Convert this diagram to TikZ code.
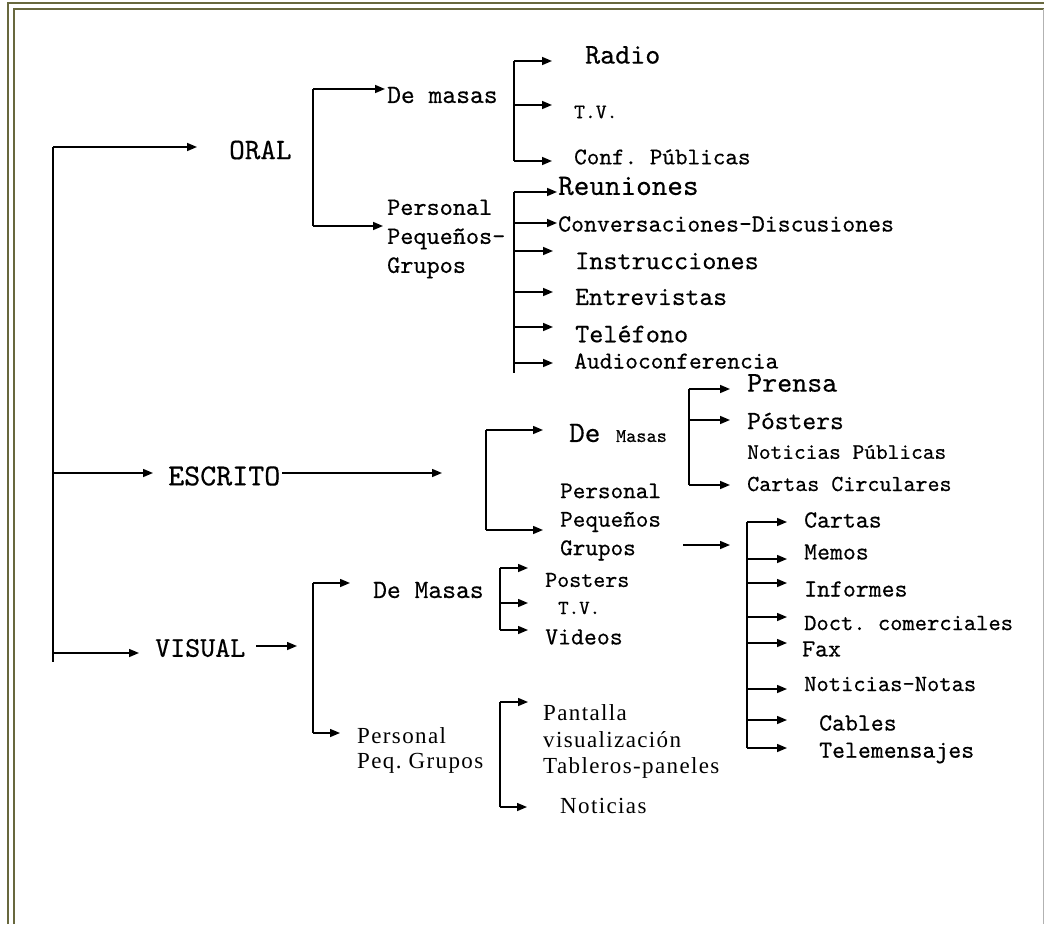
\documentclass[tikz,border=0pt]{standalone}
\usepackage{fontspec}
\newfontfamily\cour{lmmono10-regular.otf}[FakeBold=0.4]
\newfontfamily\tms[LetterSpace=6]{Liberation Serif}
\usetikzlibrary{arrows.meta}
\newcommand{\fsz}[2]{\fontsize{#1pt}{#2pt}\selectfont}
\definecolor{framecol}{RGB}{104,104,62}
\tikzset{
  >={Triangle[length=10pt,width=8pt]},
  lbl/.style={anchor=west, inner sep=0pt, align=left, font=\cour\fsz{#1}{28}},
  lbl/.default=24.6,
  tlbl/.style={anchor=west, inner sep=0pt, align=left, font=\tms\fsz{23}{#1}},
  tlbl/.default=27,
  bar/.style={line width=1.5pt},
  flow/.style={->, line width=1.5pt},
  frame/.style={draw=framecol, line width=2.4pt},
}

\begin{document}
\begin{tikzpicture}[x=1pt, y=-1pt]
  \useasboundingbox (0,0) rectangle (1044,924);
  % double frame
  \draw[frame] (8,924) -- (8,3) -- (1044,3);
  \draw[frame] (14,924) -- (14,9) -- (1044,9);
  \draw[black!30, line width=1pt] (1043,9) -- (1043,924);

  % main branches
  \node[lbl=29.7] (oral)    at (229,150) {ORAL};
  \node[lbl=30.5] (escrito) at (168,476) {ESCRITO};
  \node[lbl=28.6] (visual)  at (155,648) {VISUAL};
  \coordinate (j-oral)    at (53,147);
  \coordinate (j-escrito) at (53,473);
  \coordinate (j-visual)  at (53,653);
  \coordinate (trunk-end) at (53,662);
  \draw[bar] (j-oral) -- (trunk-end);
  \draw[flow, shorten >=32pt] (j-oral) -- (j-oral -| oral.west);
  \draw[flow, shorten >=15pt] (j-escrito) -- (j-escrito -| escrito.west);
  \draw[flow, shorten >=16pt] (j-visual) -- (j-visual -| visual.west);
  \coordinate (e-in) at (442,473);
  \coordinate (v-in) at (297,646);
  \draw[flow, shorten <=2pt] (e-in -| escrito.east) -- (e-in);
  \draw[flow, shorten <=11pt] (v-in -| visual.east) -- (v-in);

  % oral
  \node[lbl=26.3] (odm) at (387,95) {De masas};
  \node[lbl, font=\cour\fsz{25}{29}] (ope) at (387,239) {Personal\\Pequeños-\\Grupos};
  \coordinate (j-odm) at (313,89);
  \coordinate (j-ope) at (313,226);
  \draw[bar] (j-odm) -- (j-ope);
  \draw[flow, shorten >=2pt] (j-odm) -- (j-odm -| odm.west);
  \draw[flow, shorten >=4pt] (j-ope) -- (j-ope -| ope.west);

  \node[lbl=28.6] (radio) at (585,55)  {Radio};
  \node[lbl=20.6] (tv)    at (574,112) {T.V.};
  \node[lbl=24]   (conf)  at (574,157) {Conf.\ Públicas};
  \coordinate (j-radio) at (514,61);
  \coordinate (j-tv)    at (514,105);
  \coordinate (j-conf)  at (514,161);
  \draw[bar] (j-radio) -- (j-conf);
  \draw[flow, shorten >=33pt] (j-radio) -- (j-radio -| radio.west);
  \draw[flow, shorten >=22pt] (j-tv) -- (j-tv -| tv.west);
  \draw[flow, shorten >=22pt] (j-conf) -- (j-conf -| conf.west);

  \node[lbl=29.7] (reun)  at (558,186) {Reuniones};
  \node[lbl=24.6] (conv)  at (558,224) {Conversaciones-Discusiones};
  \node[lbl=26.9] (instr) at (575,261) {Instrucciones};
  \node[lbl=26.3] (entre) at (575,297) {Entrevistas};
  \node[lbl=26.9] (tel)   at (575,334) {Teléfono};
  \node[lbl=24.3] (audio) at (574,361) {Audioconferencia};
  \coordinate (j-reun)  at (514,192);
  \coordinate (j-conv)  at (514,223);
  \coordinate (j-instr) at (514,251);
  \coordinate (j-entre) at (514,292);
  \coordinate (j-tel)   at (514,327);
  \coordinate (j-audio) at (514,363);
  \coordinate (p-end)   at (514,373);
  \draw[bar] (j-reun) -- (p-end);
  \draw[flow, shorten >=1pt] (j-reun) -- (j-reun -| reun.west);
  \draw[flow, shorten >=1pt] (j-conv) -- (j-conv -| conv.west);
  \draw[flow, shorten >=22pt] (j-instr) -- (j-instr -| instr.west);
  \draw[flow, shorten >=22pt] (j-entre) -- (j-entre -| entre.west);
  \draw[flow, shorten >=22pt] (j-tel) -- (j-tel -| tel.west);
  \draw[flow, shorten >=21pt] (j-audio) -- (j-audio -| audio.west);

  % escrito
  \node[lbl=29.7] (edm) at (569,433) {De {\fsz{19.4}{20}Masas}};
  \node[lbl, font=\cour\fsz{24}{28.5}] (epe) at (560,522) {Personal\\Pequeños\\Grupos};
  \coordinate (j-edm) at (486,430);
  \coordinate (j-epe) at (486,530);
  \draw[bar] (j-edm) -- (j-epe);
  \draw[flow, shorten >=26pt] (j-edm) -- (j-edm -| edm.west);
  \draw[flow, shorten >=17pt] (j-epe) -- (j-epe -| epe.west);

  \node[lbl=28.6] (prensa)   at (747,383) {Prensa};
  \node[lbl=26.3] (posters)  at (747,421) {Pósters};
  \node[lbl=22.3] (notpub)   at (747,452) {Noticias Públicas};
  \node[lbl=22.9] (cartcirc) at (747,484) {Cartas Circulares};
  \coordinate (j-prensa)   at (689,389);
  \coordinate (j-posters)  at (689,420);
  \coordinate (j-cartcirc) at (689,485);
  \draw[bar] (j-prensa) -- (j-cartcirc);
  \draw[flow, shorten >=17pt] (j-prensa) -- (j-prensa -| prensa.west);
  \draw[flow, shorten >=17pt] (j-posters) -- (j-posters -| posters.west);
  \draw[flow, shorten >=17pt] (j-cartcirc) -- (j-cartcirc -| cartcirc.west);

  \coordinate (g-in) at (730,545);
  \draw[flow, shorten <=22pt] (g-in -| epe.east) -- (g-in);

  \node[lbl]      (cartas) at (804,520) {Cartas};
  \node[lbl]      (memos)  at (804,552) {Memos};
  \node[lbl]      (inf)    at (804,589) {Informes};
  \node[lbl=23.4] (doct)   at (804,623) {Doct.\ comerciales};
  \node[lbl]      (fax)    at (802,649) {Fax};
  \node[lbl=23.4] (notas)  at (804,684) {Noticias-Notas};
  \node[lbl]      (cables) at (819,723) {Cables};
  \node[lbl]      (telem)  at (819,753) {Telemensajes};
  \coordinate (j-cartas) at (747,522);
  \coordinate (j-memos)  at (747,559);
  \coordinate (j-inf)    at (747,583);
  \coordinate (j-doct)   at (747,617);
  \coordinate (j-fax)    at (747,643);
  \coordinate (j-notas)  at (747,689);
  \coordinate (j-cables) at (747,720);
  \coordinate (j-telem)  at (747,748);
  \draw[bar] (j-cartas) -- (j-telem);
  \draw[flow, shorten >=17pt] (j-cartas) -- (j-cartas -| cartas.west);
  \draw[flow, shorten >=17pt] (j-memos) -- (j-memos -| memos.west);
  \draw[flow, shorten >=17pt] (j-inf) -- (j-inf -| inf.west);
  \draw[flow, shorten >=17pt] (j-doct) -- (j-doct -| doct.west);
  \draw[flow, shorten >=15pt] (j-fax) -- (j-fax -| fax.west);
  \draw[flow, shorten >=17pt] (j-notas) -- (j-notas -| notas.west);
  \draw[flow, shorten >=32pt] (j-cables) -- (j-cables -| cables.west);
  \draw[flow, shorten >=32pt] (j-telem) -- (j-telem -| telem.west);

  % visual
  \node[lbl=26.3] (vdm) at (373,590) {De Masas};
  \node[tlbl=25]  (vpe) at (357,750) {Personal\\Peq.\ Grupos};
  \coordinate (j-vdm) at (313,583);
  \coordinate (j-vpe) at (313,733);
  \draw[bar] (j-vdm) -- (j-vpe);
  \draw[flow, shorten >=23pt] (j-vdm) -- (j-vdm -| vdm.west);
  \draw[flow, shorten >=17pt] (j-vpe) -- (j-vpe -| vpe.west);

  \node[lbl=22.9] (vposters) at (545,580) {Posters};
  \node[lbl=20]   (vtv)      at (558,608) {T.V.};
  \node[lbl]      (vvideos)  at (545,637) {Videos};
  \coordinate (j-vposters) at (500,568);
  \coordinate (j-vtv)      at (500,603);
  \coordinate (j-vvideos)  at (500,630);
  \draw[bar] (j-vposters) -- (j-vvideos);
  \draw[flow, shorten >=17pt] (j-vposters) -- (j-vposters -| vposters.west);
  \draw[flow, shorten >=30pt] (j-vtv) -- (j-vtv -| vtv.west);
  \draw[flow, shorten >=17pt] (j-vvideos) -- (j-vvideos -| vvideos.west);

  \node[tlbl] (pant) at (543,726.5) {Pantalla\\visualización};
  \node[tlbl] (tabl) at (543,768)   {Tableros-paneles};
  \node[tlbl] (vnot) at (560,806)   {Noticias};
  \coordinate (j-pant) at (500,702);
  \coordinate (j-vnot) at (500,807);
  \draw[bar] (j-pant) -- (j-vnot);
  \draw[flow, shorten >=15pt] (j-pant) -- (j-pant -| pant.west);
  \draw[flow, shorten >=33pt] (j-vnot) -- (j-vnot -| vnot.west);
\end{tikzpicture}
\end{document}
